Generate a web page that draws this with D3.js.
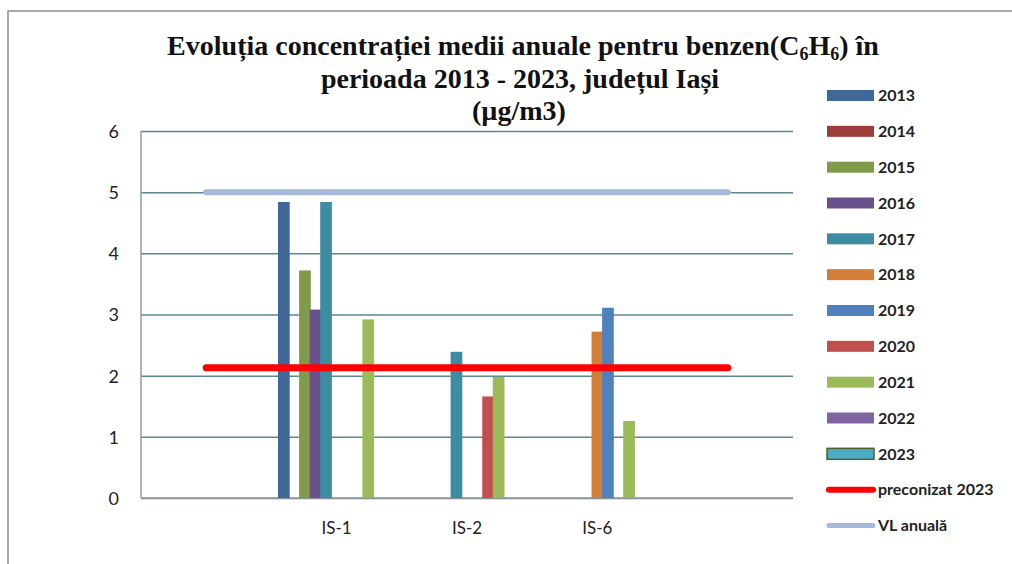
<!DOCTYPE html>
<html lang="ro">
<head>
<meta charset="utf-8">
<title>Benzen Iasi</title>
<script src="https://cdn.jsdelivr.net/npm/d3@7"></script>
<style>
  body { margin: 0; background: #fff; }
  .grid line { stroke: #5b8792; stroke-width: 1.5px; }
  .grid path { display: none; }
  .title text { font-family: "Liberation Serif", "Times New Roman", serif; font-weight: bold; fill: #111; }
  .ylab text, .xlab text { font-family: Lato, "Open Sans", sans-serif; fill: #222; }
  .legend text { font-family: Lato, "Open Sans", sans-serif; font-weight: bold; fill: #222; font-size: 16px; }
</style>
</head>
<body>
<svg width="1012" height="564"></svg>
<script>
// categories (first and last are empty slots used by the line series)
var categories = ["", "IS-1", "IS-2", "IS-6", " "];
var stations = ["IS-1", "IS-2", "IS-6"];
var years = ["2013", "2014", "2015", "2016", "2017", "2018", "2019", "2020", "2021", "2022", "2023"];

// yearly averages per station, in the order of years (null = no data)
var valuesIS1 = [4.84, null, 3.72, 3.08, 4.84, null, null, null, 2.92, null, null];
var valuesIS2 = [null, null, null, null, 2.39, null, null, 1.66, 1.98, null, null];
var valuesIS6 = [null, null, null, null, null, 2.72, 3.11, null, 1.26, null, null];

var preconizat2023 = [2.13, 2.13, 2.13, 2.13, 2.13];
var vlAnuala = [5, 5, 5, 5, 5];

var yTicks = [0, 1, 2, 3, 4, 5, 6];

var colors = ["#3f6898", "#9d3d3b", "#7f9a48", "#69508a", "#3d8ca2", "#d17e38",
              "#4f81bd", "#c0504d", "#9bbb59", "#8064a2", "#4bacc6"];

var svg = d3.select("svg");

var plotLeft = 141, plotRight = 793, plotTop = 131, plotBottom = 498;

var x0 = d3.scaleBand().domain(categories).range([plotLeft, plotRight]).padding(0);
var y = d3.scaleLinear().domain([0, 6]).range([plotBottom, plotTop]);

var barW = 11.7, inset = 6.6;
var x1 = d3.scalePoint().domain(years).range([inset, x0.bandwidth() - inset - barW]);

// frame
svg.append("path")
  .attr("d", "M8,564 L8,11 L1012,11")
  .attr("fill", "none")
  .attr("stroke", "#8e8e8e")
  .attr("stroke-width", 1.5);

// gridlines
svg.append("g")
  .attr("class", "grid")
  .attr("transform", "translate(" + plotLeft + ",0)")
  .call(d3.axisLeft(y).tickValues(yTicks).tickSize(-(plotRight - plotLeft)).tickFormat(""));

// y labels
var ylab = svg.append("g")
  .attr("class", "ylab")
  .attr("transform", "translate(" + plotLeft + ",0)")
  .call(d3.axisLeft(y).tickValues(yTicks).tickSize(0).tickPadding(22).tickFormat(d3.format("d")));
ylab.select(".domain").remove();
ylab.selectAll("text").attr("font-size", 18).attr("dy", "0.36em");

// axes lines
svg.append("line")
  .attr("x1", plotLeft).attr("x2", plotLeft).attr("y1", plotTop).attr("y2", plotBottom)
  .attr("stroke", "#999").attr("stroke-width", 1.5);
svg.append("line")
  .attr("x1", plotLeft).attr("x2", plotRight).attr("y1", plotBottom).attr("y2", plotBottom)
  .attr("stroke", "#999").attr("stroke-width", 1.5);

// x labels
var xlab = svg.append("g")
  .attr("class", "xlab")
  .attr("transform", "translate(0," + plotBottom + ")")
  .call(d3.axisBottom(x0).tickSize(0).tickPadding(24));
xlab.select(".domain").remove();
xlab.selectAll("text").attr("font-size", 17);

// bars
var stationValues = { "IS-1": valuesIS1, "IS-2": valuesIS2, "IS-6": valuesIS6 };
years.forEach(function(yr, i) {
  var rows = stations
    .map(function(s) { return { station: s, value: stationValues[s][i] }; })
    .filter(function(d) { return d.value != null; });
  svg.append("g")
    .selectAll("rect")
    .data(rows)
    .enter().append("rect")
      .attr("x", function(d) { return x0(d.station) + x1(yr); })
      .attr("y", function(d) { return y(d.value); })
      .attr("width", barW)
      .attr("height", function(d) { return plotBottom - y(d.value); })
      .attr("fill", colors[i]);
});

// line series
var line = d3.line()
  .x(function(d, i) { return x0(categories[i]) + x0.bandwidth() / 2; })
  .y(function(d) { return y(d); });

svg.append("path")
  .datum(vlAnuala)
  .attr("d", line)
  .attr("fill", "none")
  .attr("stroke", "#a7b9d9")
  .attr("stroke-width", 6)
  .attr("stroke-linecap", "round");

svg.append("path")
  .datum(preconizat2023)
  .attr("d", line)
  .attr("fill", "none")
  .attr("stroke", "#ff0000")
  .attr("stroke-width", 7)
  .attr("stroke-linecap", "round");

// title
var title = svg.append("g").attr("class", "title").attr("text-anchor", "middle");
var t1 = title.append("text").attr("x", 523).attr("y", 55).attr("font-size", 28);
t1.append("tspan").text("Evoluția concentrației medii anuale pentru benzen(C");
t1.append("tspan").attr("font-size", 18).attr("dy", 5).text("6");
t1.append("tspan").attr("dy", -5).text("H");
t1.append("tspan").attr("font-size", 18).attr("dy", 5).text("6");
t1.append("tspan").attr("dy", -5).text(") în");
title.append("text").attr("x", 520).attr("y", 88).attr("font-size", 28)
  .text("perioada 2013 - 2023, județul Iași");
title.append("text").attr("x", 519).attr("y", 120).attr("font-size", 28)
  .text("(µg/m3)");

// legend
var legendItems = years.map(function(yr, i) { return { label: yr, color: colors[i], type: "bar" }; });
legendItems.push({ label: "preconizat 2023", color: "#ff0000", type: "line" });
legendItems.push({ label: "VL anuală", color: "#a7b9d9", type: "line" });

var legend = svg.append("g").attr("class", "legend");
var rowY = d3.scalePoint().domain(d3.range(legendItems.length)).range([95.5, 525.5]);

var items = legend.selectAll("g")
  .data(legendItems)
  .enter().append("g")
    .attr("transform", function(d, i) { return "translate(0," + rowY(i) + ")"; });

items.filter(function(d) { return d.type === "bar"; })
  .append("rect")
    .attr("x", 827).attr("y", -5.5).attr("width", 47).attr("height", 11)
    .attr("fill", function(d) { return d.color; })
    .attr("stroke", function(d) { return d.label === "2023" ? "#4f6228" : "none"; })
    .attr("stroke-width", 1.5);

items.filter(function(d) { return d.type === "line"; })
  .append("line")
    .attr("x1", 829).attr("x2", 873)
    .attr("stroke", function(d) { return d.color; })
    .attr("stroke-width", function(d) { return d.color === "#ff0000" ? 6 : 5; })
    .attr("stroke-linecap", "round");

items.append("text")
  .attr("x", 878)
  .attr("dy", "0.36em")
  .text(function(d) { return d.label; });
</script>
</body>
</html>
